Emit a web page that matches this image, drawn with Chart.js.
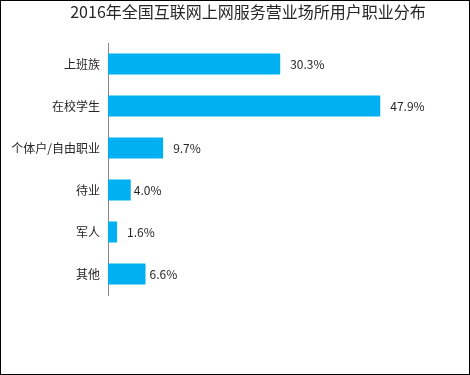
<!DOCTYPE html>
<html>
<head>
<meta charset="utf-8">
<script src="https://cdn.jsdelivr.net/npm/chart.js@4/dist/chart.umd.min.js"></script>
<style>
html,body{margin:0;padding:0;background:#fff;}
#wrap{width:470px;height:375px;position:relative;}
</style>
</head>
<body>
<div id="wrap"><canvas id="c" width="470" height="375"></canvas></div>
<script>
const titleText = '2016年全国互联网上网服务营业场所用户职业分布';
const categories = ['上班族', '在校学生', '个体户/自由职业', '待业', '军人', '其他'];
const values = [30.3, 47.9, 9.7, 4.0, 1.6, 6.6];

const FONT = '"Noto Sans CJK SC", "Noto Sans", sans-serif';
const labelGap = [10, 10, 10, 3, 10, 4];

const extras = {
  id: 'extras',
  afterDatasetsDraw(chart) {
    const ctx = chart.ctx;
    const meta = chart.getDatasetMeta(0);
    ctx.save();
    ctx.fillStyle = '#262626';
    ctx.font = '12px ' + FONT;
    ctx.textAlign = 'left';
    ctx.textBaseline = 'middle';
    meta.data.forEach((bar, i) => {
      ctx.fillText(values[i].toFixed(1) + '%', bar.x + labelGap[i], bar.y);
    });
    ctx.restore();
  },
  afterDraw(chart) {
    const ctx = chart.ctx;
    ctx.save();
    ctx.fillStyle = '#262626';
    ctx.font = '16px ' + FONT;
    ctx.textAlign = 'center';
    ctx.textBaseline = 'middle';
    ctx.fillText(titleText, 248, 12);
    ctx.strokeStyle = '#000';
    ctx.lineWidth = 1;
    ctx.strokeRect(0.5, 0.5, 469, 374);
    ctx.restore();
  }
};

new Chart(document.getElementById('c'), {
  type: 'bar',
  data: {
    labels: categories,
    datasets: [{
      data: values,
      backgroundColor: '#00B0F0',
      borderWidth: 0,
      categoryPercentage: 0.5,
      barPercentage: 1.0
    }]
  },
  options: {
    indexAxis: 'y',
    responsive: false,
    animation: false,
    events: [],
    layout: { padding: { left: 0, right: 21, top: 43, bottom: 80 } },
    plugins: { legend: { display: false }, title: { display: false }, tooltip: { enabled: false } },
    scales: {
      x: { display: false, min: 0, max: 60 },
      y: {
        grid: { display: false, drawTicks: false },
        border: { display: true, color: '#888888', width: 1 },
        ticks: { color: '#262626', font: { family: FONT, size: 12 }, padding: 8 },
        afterFit(s) { s.width = 108; }
      }
    }
  },
  plugins: [extras]
});
</script>
</body>
</html>
